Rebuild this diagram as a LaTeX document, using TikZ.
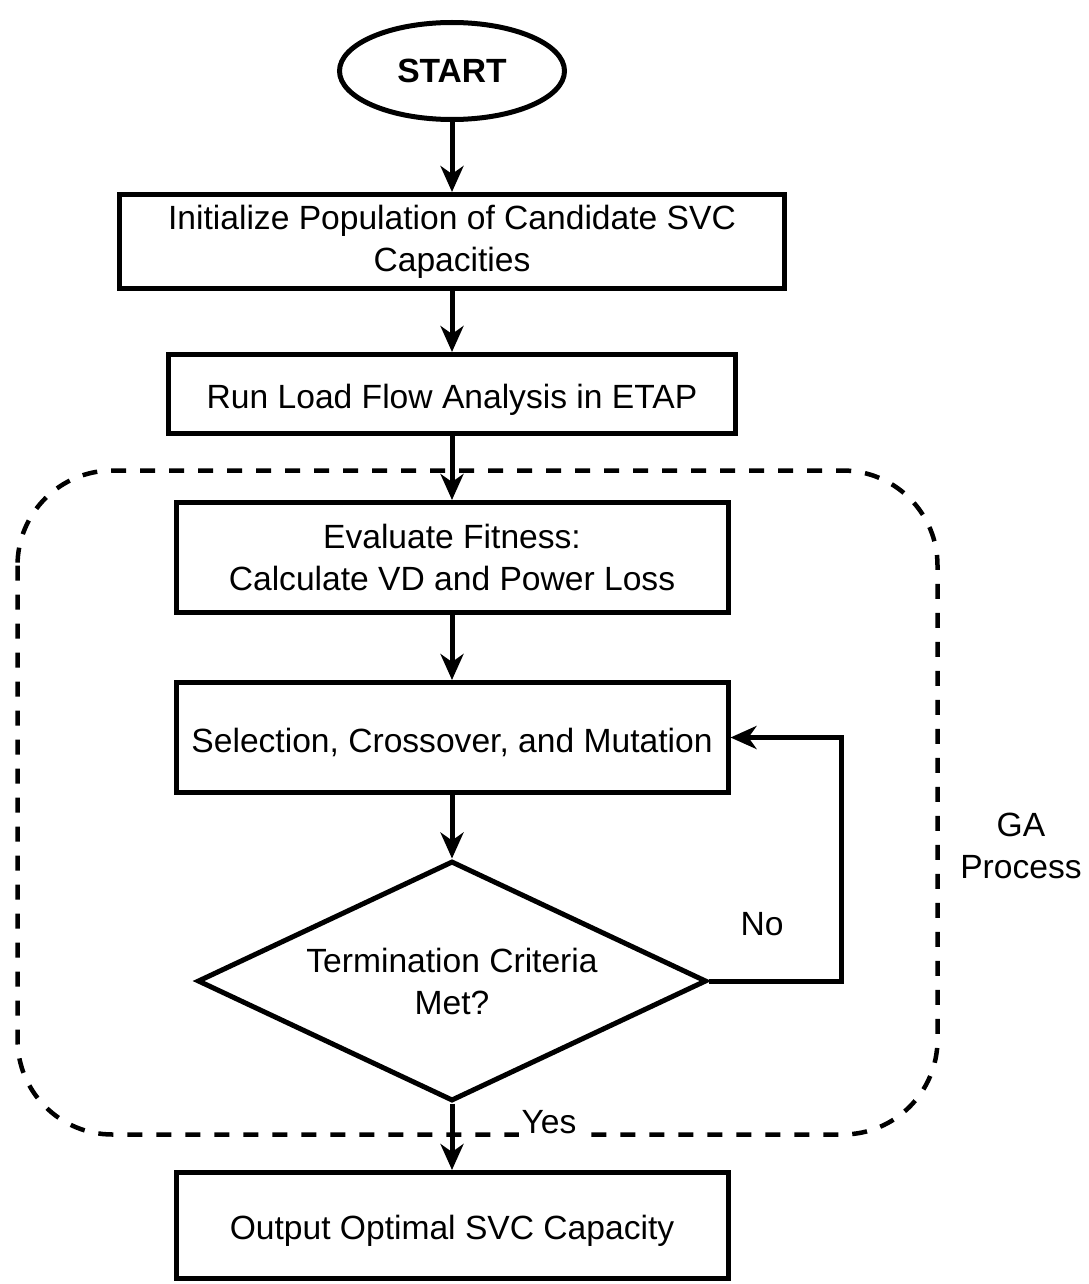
\documentclass[tikz,border=0pt]{standalone}
\usepackage{fontspec}
\setmainfont{Liberation Sans}
\usetikzlibrary{arrows.meta,positioning,shapes.geometric}

\begin{document}
\begin{tikzpicture}[x=1pt,y=-1pt,font=\fontsize{33.6}{42}\selectfont,line width=5pt,
 box/.style={draw,rectangle,align=center,inner sep=0pt,minimum width=552pt,minimum height=110pt,
  execute at begin node=\rule{0pt}{35pt}},
 arr/.style={-{Stealth[length=26pt,width=23pt,inset=8pt]},line width=5pt},
 lbl/.style={inner sep=1pt,align=center}]
\useasboundingbox (0,0) rectangle (1088,1284);
% GA region
\draw[dash pattern=on 15pt off 14pt,line width=4.5pt,rounded corners=95pt] (17.5,470.5) rectangle (937.5,1134.5);
\node[draw,ellipse,minimum width=225pt,minimum height=97pt,inner sep=0pt,font=\fontsize{33.6}{42}\selectfont\bfseries] (start) at (452,71) {START};
\node[box,minimum width=665pt,minimum height=94pt] (init) at (452,241.5) {Initialize Population of Candidate SVC\\Capacities};
\node[box,minimum width=567pt,minimum height=79pt] (loadflow) at (452,394) {Run Load Flow Analysis in ETAP};
\node[box] (fitness) at (452,557.5) {Evaluate Fitness:\\Calculate VD and Power Loss};
\node[box] (select) at (452,737.5) {Selection, Crossover, and Mutation};
\node[draw,diamond,aspect=2.1,inner sep=0pt,minimum width=509pt,minimum height=240pt,align=center] (term) at (452,981) {Termination Criteria\\Met?};
\node[box,minimum height=106pt] (output) at (452,1225.5) {Output Optimal SVC Capacity};
\foreach \a/\b in {start/init,init/loadflow,loadflow/fitness,fitness/select,select/term,term/output} \draw[arr] (\a)--(\b);
\draw[arr] (term.east) -- ++(132,0) |- (select.east);
\node[lbl] (no) at (762,924) {No};
\node[lbl,fill=white,inner sep=3pt] (yes) at (549,1122) {Yes};
\node[lbl] (ga) at (1021,846) {GA\\Process};
\end{tikzpicture}
\end{document}
